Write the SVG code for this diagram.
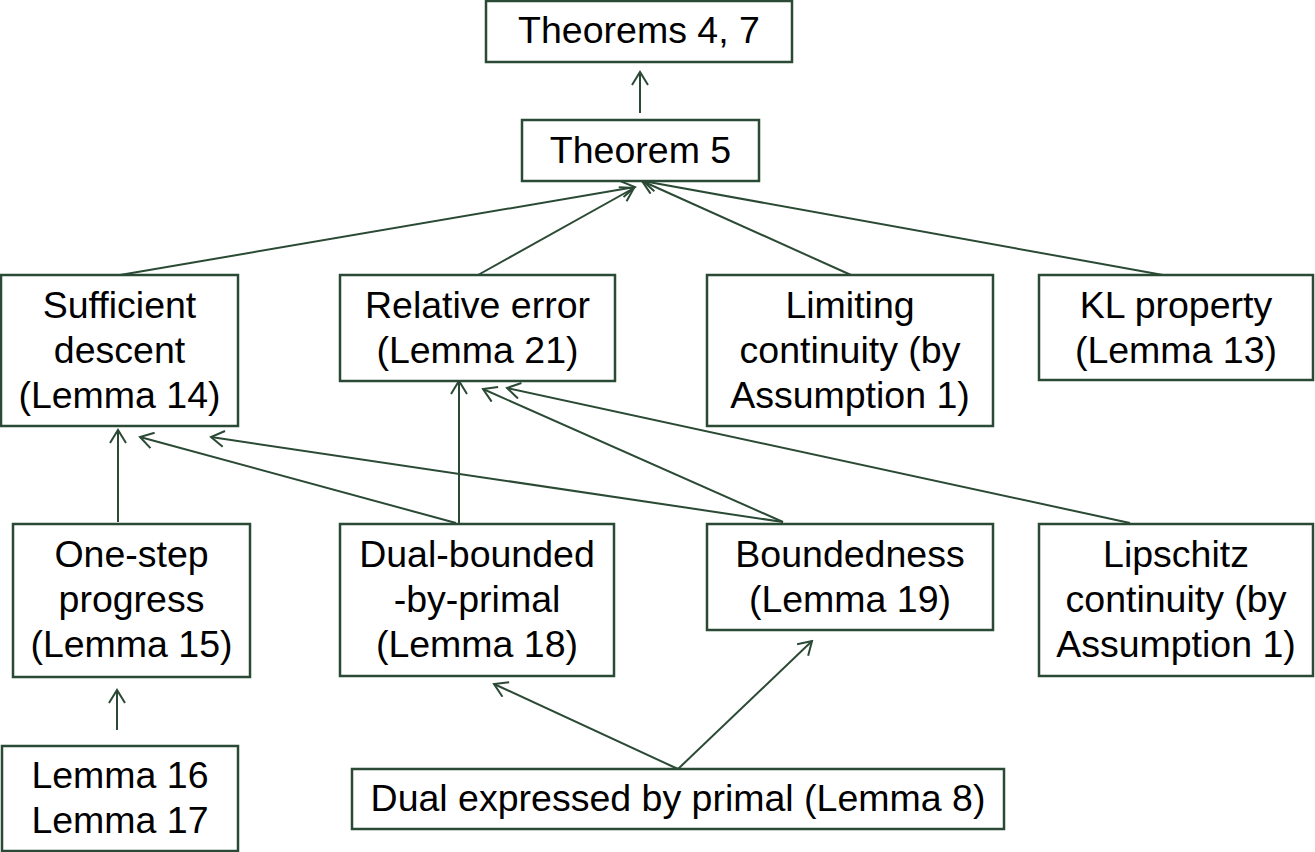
<svg xmlns="http://www.w3.org/2000/svg" width="1315" height="852" viewBox="0 0 1315 852">
<style>
.box{fill:#fff;stroke:#2b4a35;stroke-width:2.5}
.t{font-family:"Liberation Sans",Arial,sans-serif;font-size:37.5px;fill:#000;text-anchor:middle}
.c{stroke:#2b4a35;stroke-width:2;fill:none;marker-end:url(#ah)}
</style>
<defs>
<marker id="ah" markerUnits="userSpaceOnUse" markerWidth="16" markerHeight="18" viewBox="0 0 16 18" refX="14" refY="9" orient="auto">
<path d="M1,1 L14,9 L1,17" fill="none" stroke="#2b4a35" stroke-width="2"/>
</marker>
</defs>
<rect width="1315" height="852" fill="#fff"/>
<g id="connectors">
<line class="c" x1="640" y1="113" x2="640" y2="72"/>
<line class="c" x1="120" y1="275" x2="635" y2="187"/>
<line class="c" x1="478" y1="275" x2="634" y2="188"/>
<line class="c" x1="851" y1="275" x2="642" y2="181"/>
<line class="c" x1="1163" y1="275" x2="643" y2="181"/>
<line class="c" x1="118" y1="522" x2="118" y2="430"/>
<line class="c" x1="456" y1="523" x2="140" y2="437"/>
<line class="c" x1="783" y1="522" x2="211" y2="437"/>
<line class="c" x1="459" y1="523" x2="459" y2="381"/>
<line class="c" x1="783" y1="522" x2="483" y2="389"/>
<line class="c" x1="1130" y1="523" x2="507" y2="388"/>
<line class="c" x1="678" y1="769" x2="494" y2="684"/>
<line class="c" x1="678" y1="769" x2="812" y2="641"/>
<line class="c" x1="117" y1="730" x2="117" y2="690"/>
</g>
<g id="n-theorems47"><rect class="box" x="486" y="1" width="306" height="61"/><text class="t" x="639" y="43">Theorems 4, 7</text></g>
<g id="n-theorem5"><rect class="box" x="522" y="120" width="237" height="61"/><text class="t" x="640.5" y="163">Theorem 5</text></g>
<g id="n-sufficient"><rect class="box" x="1" y="275" width="237" height="151"/><text class="t" x="119.5" y="318">Sufficient</text><text class="t" x="119.5" y="363">descent</text><text class="t" x="119.5" y="408">(Lemma 14)</text></g>
<g id="n-relerr"><rect class="box" x="340" y="275" width="275" height="106"/><text class="t" x="477.5" y="318">Relative error</text><text class="t" x="477.5" y="363">(Lemma 21)</text></g>
<g id="n-limiting"><rect class="box" x="707" y="275" width="286" height="151"/><text class="t" x="850" y="318">Limiting</text><text class="t" x="850" y="363">continuity (by</text><text class="t" x="850" y="408">Assumption 1)</text></g>
<g id="n-kl"><rect class="box" x="1039" y="275" width="274" height="105"/><text class="t" x="1176" y="318">KL property</text><text class="t" x="1176" y="363">(Lemma 13)</text></g>
<g id="n-onestep"><rect class="box" x="13" y="524" width="237" height="153"/><text class="t" x="131.5" y="567">One-step</text><text class="t" x="131.5" y="612">progress</text><text class="t" x="131.5" y="657">(Lemma 15)</text></g>
<g id="n-dualbounded"><rect class="box" x="340" y="524" width="274" height="152"/><text class="t" x="477" y="567">Dual-bounded</text><text class="t" x="477" y="612">-by-primal</text><text class="t" x="477" y="657">(Lemma 18)</text></g>
<g id="n-boundedness"><rect class="box" x="707" y="524" width="286" height="106"/><text class="t" x="850" y="567">Boundedness</text><text class="t" x="850" y="612">(Lemma 19)</text></g>
<g id="n-lipschitz"><rect class="box" x="1039" y="524" width="274" height="152"/><text class="t" x="1176" y="567">Lipschitz</text><text class="t" x="1176" y="612">continuity (by</text><text class="t" x="1176" y="657">Assumption 1)</text></g>
<g id="n-lemma1617"><rect class="box" x="2" y="746" width="236" height="105"/><text class="t" x="120" y="788">Lemma 16</text><text class="t" x="120" y="833">Lemma 17</text></g>
<g id="n-dualexpr"><rect class="box" x="352" y="769" width="652" height="60"/><text class="t" x="678" y="811">Dual expressed by primal (Lemma 8)</text></g>
</svg>
